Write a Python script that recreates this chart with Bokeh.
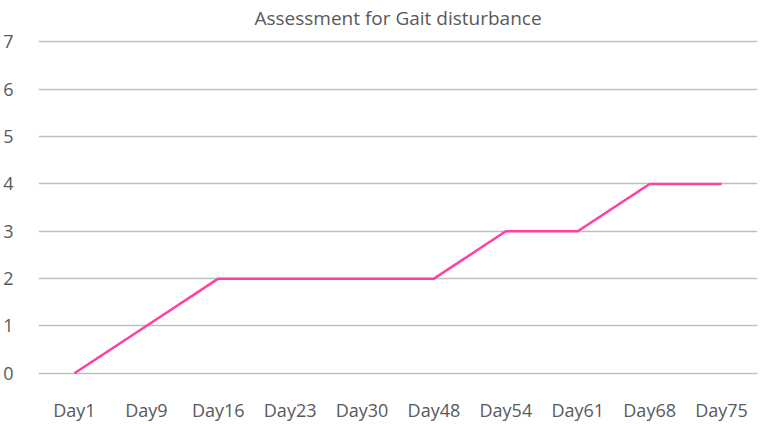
from bokeh.plotting import figure
from bokeh.models import Range1d
from bokeh.embed import file_html
from bokeh.resources import INLINE

days = ["Day1", "Day9", "Day16", "Day23", "Day30", "Day48", "Day54", "Day61", "Day68", "Day75"]
scores = [0, 1, 2, 2, 2, 2, 3, 3, 4, 4]
y_ticks = [0, 1, 2, 3, 4, 5, 6, 7]
title_text = "Assessment for Gait disturbance"

FONT = "Open Sans"
GREY = "#595959"

p = figure(x_range=days, y_range=Range1d(-0.3, 7.2), width=764, height=424,
           output_backend="svg", toolbar_location=None, title=title_text,
           min_border_left=36, min_border_right=7, min_border_top=31, min_border_bottom=36)
p.outline_line_color = None
p.background_fill_color = "white"
p.border_fill_color = "white"

p.title.align = "center"
p.title.offset = 12
p.title.text_font = FONT
p.title.text_font_size = "19px"
p.title.text_font_style = "normal"
p.title.text_color = GREY
p.title.standoff = 4

p.line(days, scores, line_color="#ff3fa4", line_width=2.5)

p.xgrid.grid_line_color = None
p.ygrid.grid_line_color = "#bfbfbf"
p.ygrid.grid_line_width = 1.5
p.yaxis.ticker = y_ticks

for ax in (p.xaxis, p.yaxis):
    ax.axis_line_color = None
    ax.major_tick_line_color = None
    ax.minor_tick_line_color = None
    ax.major_label_text_font = FONT
    ax.major_label_text_font_size = "18px"
    ax.major_label_text_color = GREY
p.xaxis.major_label_standoff = 4
p.yaxis.major_label_standoff = 19

open("out.html", "w").write(file_html(p, INLINE))
